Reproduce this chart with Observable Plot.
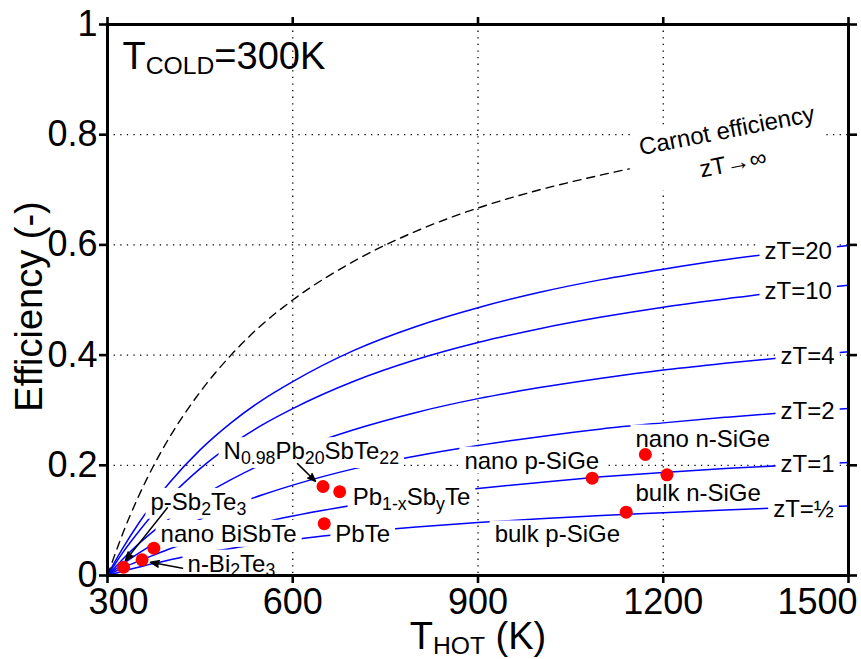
<!DOCTYPE html>
<html><head><meta charset="utf-8">
<script src="https://cdn.jsdelivr.net/npm/d3@7"></script>
<script src="https://cdn.jsdelivr.net/npm/@observablehq/plot@0.6"></script>
<style>
body{margin:0;background:#fff;}
#chart{width:861px;height:659px;}
</style></head><body><div id="chart"></div>
<script>
// ---- data ----
const temps = [300,310,325,350,375,400,450,500,550,600,700,800,900,1000,1100,1200,1300,1400,1500];
const zT20   = [0,0.021,0.050,0.094,0.133,0.168,0.228,0.277,0.318,0.352,0.409,0.452,0.486,0.514,0.537,0.556,0.573,0.587,0.599];
const zT10   = [0,0.017,0.042,0.079,0.113,0.142,0.194,0.237,0.273,0.303,0.353,0.392,0.423,0.448,0.469,0.487,0.502,0.516,0.527];
const zT4    = [0,0.012,0.030,0.057,0.081,0.103,0.142,0.174,0.202,0.226,0.265,0.296,0.321,0.341,0.358,0.373,0.385,0.396,0.406];
const zT2    = [0,0.009,0.021,0.040,0.058,0.074,0.102,0.126,0.146,0.164,0.194,0.217,0.236,0.252,0.266,0.277,0.287,0.296,0.303];
const zT1    = [0,0.006,0.014,0.026,0.037,0.048,0.066,0.082,0.096,0.108,0.128,0.145,0.158,0.169,0.179,0.187,0.194,0.200,0.205];
const zTHalf = [0,0.003,0.008,0.015,0.022,0.028,0.040,0.049,0.058,0.065,0.078,0.088,0.096,0.103,0.109,0.114,0.119,0.123,0.126];
const curveNames = ["zT=20","zT=10","zT=4","zT=2","zT=1","zT=½"];
const curveSeries = [zT20, zT10, zT4, zT2, zT1, zTHalf];
const curveLabelT   = [1364,1364,1390,1390,1390,1378];
const curveLabelEff = [0.589,0.516,0.397,0.298,0.201,0.121];

const carnotT   = [300,310,325,350,375,400,450,500,550,600,700,800,900,1000,1100,1145];
const carnotEff = [0,0.032,0.077,0.143,0.200,0.250,0.333,0.400,0.455,0.500,0.571,0.625,0.667,0.700,0.727,0.738];
const carnotLabel = "Carnot efficiency\nzT→∞";
const carnotLabelT = 1307, carnotLabelEff = 0.783;

const pointT   = [326,356,375,649,676,651,1085,1206,1171,1140];
const pointEff = [0.015,0.0285,0.0496,0.1615,0.152,0.094,0.1766,0.1827,0.2196,0.1149];

const matLabels = ["nano n-SiGe","nano p-SiGe","bulk n-SiGe","bulk p-SiGe","N_{0.98}Pb_{20}SbTe_{22}","Pb_{1-x}Sb_{y}Te","PbTe","p-Sb_{2}Te_{3}","nano BiSbTe","n-Bi_{2}Te_{3}"];
const matLabelT   = [1155,878,1155,927,488,697,669,369.6,386,429.6];
const matLabelEff = [0.248,0.208,0.149,0.074,0.225,0.142,0.074,0.133,0.075,0.021];

const arrowX1 = [397,421.5,607.7];
const arrowY1 = [0.123,0.013,0.203];
const arrowX2 = [329,369.6,636.8];
const arrowY2 = [0.027,0.024,0.171];

const xTicks = [300,600,900,1200,1500];
const xTickLabels = ["300","600","900","1200","1500"];
const yTicks = [0,0.2,0.4,0.6,0.8,1];
const yTickLabels = ["0","0.2","0.4","0.6","0.8","1"];
const gridX = [600,900,1200];
const gridY = [0.2,0.4,0.6,0.8];

const titleText = "T_{COLD}=300K";
const xLabel = "T_{HOT} (K)";
const yLabel = "Efficiency (-)";

// ---- tables ----
const curveRows = curveSeries.flatMap((s,i) => s.map((v,j) => ({T: temps[j], eff: v, zt: curveNames[i]})));
const carnotRows = carnotT.map((t,i) => ({T: t, eff: carnotEff[i]}));
const pointRows = pointT.map((t,i) => ({T: t, eff: pointEff[i]}));
const curveLabelRows = curveNames.map((n,i) => ({text: n, T: curveLabelT[i], eff: curveLabelEff[i]}));
const matRows = matLabels.map((n,i) => ({text: n, T: matLabelT[i], eff: matLabelEff[i]}));
const arrowRows = arrowX1.map((x,i) => ({x1: x, y1: arrowY1[i], x2: arrowX2[i], y2: arrowY2[i]}));
const xt = xTicks.map((t,i) => ({t, s: xTickLabels[i]}));

const font = "'Liberation Sans', Arial, Helvetica, sans-serif";
const annSize = 24;

const plot = Plot.plot({
  width: 861, height: 659,
  marginLeft: 107, marginRight: 13, marginTop: 24, marginBottom: 84,
  style: {fontFamily: font, background: "white", color: "black", overflow: "visible"},
  x: {domain: [300,1500]},
  y: {domain: [0,1]},
  marks: [
    Plot.gridX(gridX, {stroke: "black", strokeOpacity: 1, strokeWidth: 1.3, strokeDasharray: "1.3,5.3"}),
    Plot.gridY(gridY, {stroke: "black", strokeOpacity: 1, strokeWidth: 1.3, strokeDasharray: "1.3,5.3"}),
    Plot.line(curveRows, {x: "T", y: "eff", z: "zt", stroke: "#0000ff", strokeWidth: 1.5, curve: "monotone-x"}),
    Plot.line(carnotRows, {x: "T", y: "eff", stroke: "black", strokeWidth: 1.4, strokeDasharray: "8,6", curve: "monotone-x"}),
    Plot.text(curveLabelRows, {x: "T", y: "eff", text: "text", textAnchor: "start", lineAnchor: "middle", fontSize: annSize, fill: "black"}),
    Plot.text(matRows, {x: "T", y: "eff", text: "text", textAnchor: "start", lineAnchor: "middle", fontSize: annSize, fill: "black"}),
    Plot.text([{text: carnotLabel, T: carnotLabelT, eff: carnotLabelEff}], {x: "T", y: "eff", text: "text", rotate: -11, fontSize: annSize, lineHeight: 1.4, textAnchor: "middle", lineAnchor: "middle", fill: "black"}),
    Plot.arrow(arrowRows, {x1: "x1", y1: "y1", x2: "x2", y2: "y2", stroke: "black", fill: "black", strokeWidth: 1.5, headLength: 9, headAngle: 42}),
    Plot.dot(pointRows, {x: "T", y: "eff", r: 6.5, fill: "#ff0000"}),
    Plot.frame({stroke: "black", strokeWidth: 3}),
    Plot.axisY(yTicks, {anchor: "left", tickSize: 8, tickPadding: 2, fontSize: 36, strokeWidth: 2.6, label: null,
      tickFormat: d => yTickLabels[yTicks.indexOf(d)]}),
    Plot.axisY(yTicks, {anchor: "right", tickSize: 8, strokeWidth: 2.6, label: null, tickFormat: () => ""}),
    Plot.axisX(xTicks, {anchor: "bottom", tickSize: 8, strokeWidth: 2.6, label: null, tickFormat: () => ""}),
    Plot.axisX(xTicks, {anchor: "top", tickSize: 8, strokeWidth: 2.6, label: null, tickFormat: () => ""}),
    Plot.text(xt.slice(1,4), {x: "t", text: "s", frameAnchor: "bottom", lineAnchor: "top", dy: 13, fontSize: 36, fill: "black"}),
    Plot.text(xt.slice(0,1), {x: "t", text: "s", frameAnchor: "bottom", lineAnchor: "top", textAnchor: "start", dx: -19, dy: 13, fontSize: 36, fill: "black"}),
    Plot.text(xt.slice(4), {x: "t", text: "s", frameAnchor: "bottom", lineAnchor: "top", textAnchor: "end", dx: 9, dy: 13, fontSize: 36, fill: "black"}),
    Plot.text([titleText], {text: d => d, frameAnchor: "top-left", textAnchor: "start", lineAnchor: "top", dx: 15, dy: 18, fontSize: 38, fill: "black"}),
    Plot.text([xLabel], {text: d => d, frameAnchor: "bottom", textAnchor: "middle", lineAnchor: "top", dy: 47, fontSize: 38, fill: "black"}),
    Plot.text([yLabel], {text: d => d, frameAnchor: "left", textAnchor: "middle", lineAnchor: "middle", rotate: -90, dx: -78, dy: 6.5, fontSize: 38, fill: "black"})
  ]
});
document.getElementById("chart").append(plot);

// ---- post-processing: subscripts and white label backgrounds ----
const NS = "http://www.w3.org/2000/svg";
const annSet = new Set(curveNames.concat(matLabels));
const texts = Array.from(plot.querySelectorAll("text"));
const annotated = texts.filter(t => annSet.has(t.textContent) || t.textContent.startsWith("Carnot"));

function applySub(el, scale, shiftEm) {
  const s = el.textContent;
  if (!s.includes("_{")) return;
  const fs = parseFloat(getComputedStyle(el).fontSize);
  const shift = fs * shiftEm;
  el.textContent = "";
  const re = /_\{([^}]*)\}/g;
  let last = 0, m, offset = 0;
  const add = (txt, sub) => {
    if (!txt) return;
    const t = document.createElementNS(NS, "tspan");
    t.textContent = txt;
    const target = sub ? shift : 0;
    if (target !== offset) { t.setAttribute("dy", target - offset); offset = target; }
    if (sub) t.setAttribute("font-size", fs * scale);
    el.appendChild(t);
  };
  while ((m = re.exec(s))) {
    add(s.slice(last, m.index), false);
    add(m[1], true);
    last = re.lastIndex;
  }
  add(s.slice(last), false);
}
texts.forEach(t => {
  const fs = parseFloat(getComputedStyle(t).fontSize);
  if (fs > 30) applySub(t, 0.65, 0.11); else applySub(t, 0.74, 0.2);
});
annotated.forEach(el => {
  const b = el.getBBox();
  const r = document.createElementNS(NS, "rect");
  r.setAttribute("x", b.x - 5);
  r.setAttribute("y", b.y);
  r.setAttribute("width", b.width + 10);
  r.setAttribute("height", b.height);
  r.setAttribute("fill", "white");
  r.setAttribute("stroke", "none");
  const tr = el.getAttribute("transform");
  if (tr) r.setAttribute("transform", tr);
  el.parentNode.insertBefore(r, el);
});
</script>
</body></html>
